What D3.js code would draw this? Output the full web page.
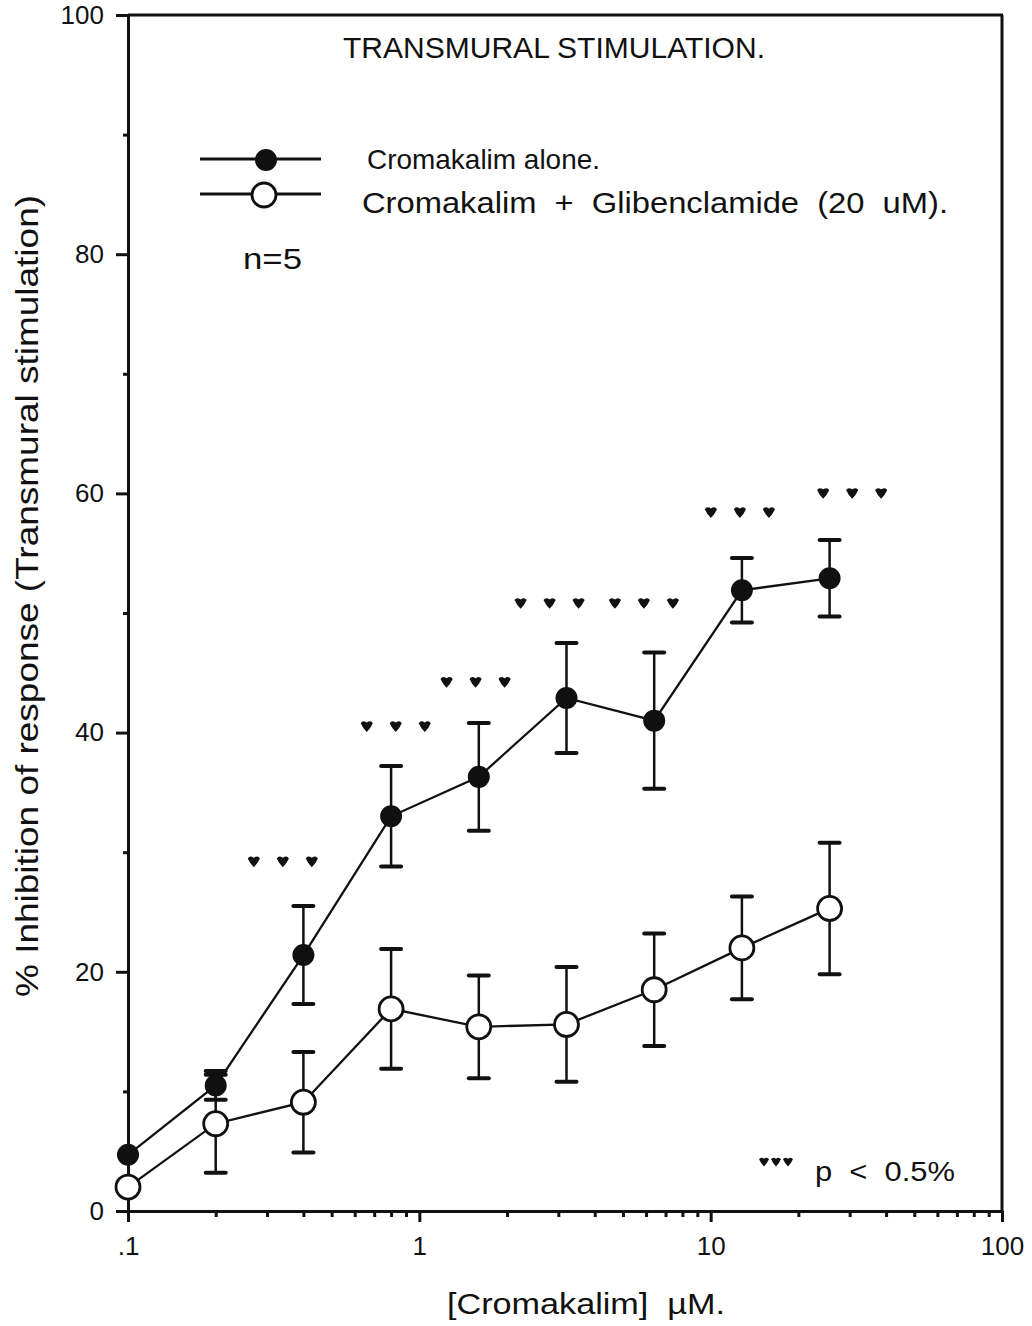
<!DOCTYPE html>
<meta charset="utf-8">
<style>
body { margin: 0; background: #fff; }
svg { display: block; }
text { font-family: "Liberation Sans", Arial, sans-serif; fill: #111; white-space: pre; }
.axis path, .axis line { stroke: #111; stroke-width: 3px; fill: none; }
.axis text { font-size: 26px; }
.curve { fill: none; stroke: #111; stroke-width: 2.3px; }
.err { stroke: #111; stroke-width: 2.5px; }
.cap { stroke: #111; stroke-width: 4px; stroke-linecap: round; }
.dot--alone { fill: #111; stroke: #111; stroke-width: 2px; }
.dot--glib { fill: #fff; stroke: #111; stroke-width: 2.8px; }
.star { fill: #111; }
</style>
<body>
<script src="https://d3js.org/d3.v7.min.js"></script>
<script>

// cromakalim concentrations (uM), doubling from 0.1
var conc = [0.1, 0.2, 0.4, 0.8, 1.6, 3.2, 6.4, 12.8, 25.6];

// % inhibition, mean and s.e.m.
var alone    = [4.7, 10.5, 21.4, 33.0, 36.3, 42.9, 41.0, 51.9, 52.9];
var aloneSem = [0, 1.2, 4.1, 4.2, 4.5, 4.6, 5.7, 2.7, 3.2];
var glib     = [2.0, 7.3, 9.1, 16.9, 15.4, 15.6, 18.5, 22.0, 25.3];
var glibSem  = [0, 4.1, 4.2, 5.0, 4.3, 4.8, 4.7, 4.3, 5.5];

// significance markers (*** p < 0.5%): centre concentration and height
var starConc  = [0.34, 0.83, 1.56, 2.8, 5.9, 12.6, 30.6];
var starLevel = [29.2, 40.5, 44.2, 50.8, 50.8, 58.4, 60.0];

var xTicks = [0.1, 1, 10, 100];
var xTickLabels = [".1", "1", "10", "100"];
var yTicks = [0, 20, 40, 60, 80, 100];

var width = 1032,
    height = 1326;

var svg = d3.select("body").append("svg")
    .attr("width", width)
    .attr("height", height);

var x = d3.scaleLog().domain([0.1, 100]).range([128, 1002]);
var y = d3.scaleLinear().domain([0, 100]).range([1211, 15]);

// x axis, log ticks pointing down
var xAll = x.ticks();
var xAxis = svg.append("g")
    .attr("class", "axis")
    .attr("transform", "translate(0," + y(0) + ")")
    .call(d3.axisBottom(x).tickValues(xAll).tickSize(6).tickSizeOuter(0)
      .tickFormat(function(d) { var i = xTicks.indexOf(d); return i < 0 ? "" : xTickLabels[i]; }));
xAxis.selectAll(".tick line")
    .attr("y2", function(d) { return xTicks.indexOf(d) < 0 ? 6 : 11; });
xAxis.selectAll(".tick text").attr("y", 26).attr("dy", "0.71em");

// y axis
var yAxis = svg.append("g")
    .attr("class", "axis")
    .attr("transform", "translate(" + x(0.1) + ",0)")
    .call(d3.axisLeft(y).tickValues(d3.range(0, 101, 10)).tickSize(5).tickSizeOuter(0)
      .tickFormat(function(d) { return yTicks.indexOf(d) < 0 ? "" : d; }));
yAxis.selectAll(".tick line")
    .attr("x2", function(d) { return yTicks.indexOf(d) < 0 ? -5 : -12; });
yAxis.selectAll(".tick text").attr("x", -24);

// frame: top and right edges
svg.append("line")
    .attr("x1", x(0.1)).attr("x2", x(100) + 1).attr("y1", y(100)).attr("y2", y(100))
    .style("stroke", "#111").style("stroke-width", 3);
svg.append("line")
    .attr("x1", x(100)).attr("x2", x(100)).attr("y1", y(100)).attr("y2", y(0))
    .style("stroke", "#111").style("stroke-width", 3);

// error bars
function errorBars(means, sems) {
  var g = svg.append("g");
  conc.forEach(function(c, i) {
    if (!sems[i]) return;
    var cx = x(c), lo = y(means[i] - sems[i]), hi = y(means[i] + sems[i]);
    g.append("line").attr("class", "err").attr("x1", cx).attr("x2", cx).attr("y1", lo).attr("y2", hi);
    [lo, hi].forEach(function(yy) {
      g.append("line").attr("class", "cap").attr("x1", cx - 10).attr("x2", cx + 10).attr("y1", yy).attr("y2", yy);
    });
  });
}
errorBars(glib, glibSem);
errorBars(alone, aloneSem);

var line = d3.line()
    .x(function(d) { return x(d[0]); })
    .y(function(d) { return y(d[1]); });

svg.append("path").attr("class", "curve").attr("d", line(d3.zip(conc, glib)));
svg.append("path").attr("class", "curve").attr("d", line(d3.zip(conc, alone)));

svg.selectAll(".dot--glib").data(d3.zip(conc, glib)).enter().append("circle")
    .attr("class", "dot--glib")
    .attr("cx", function(d) { return x(d[0]); })
    .attr("cy", function(d) { return y(d[1]); })
    .attr("r", 12);

svg.selectAll(".dot--alone").data(d3.zip(conc, alone)).enter().append("circle")
    .attr("class", "dot--alone")
    .attr("cx", function(d) { return x(d[0]); })
    .attr("cy", function(d) { return y(d[1]); })
    .attr("r", 10);

// little drop-shaped asterisks
function star(g, cx, cy, s) {
  g.append("path").attr("class", "star")
    .attr("transform", "translate(" + cx + "," + cy + ") scale(" + s + ")")
    .attr("d", "M-4.5,-2.5 Q-3,-5 0,-3 Q3,-5 4.5,-2.5 Q3,1 0,4 Q-3,1 -4.5,-2.5 Z");
}
var stars = svg.append("g");
starConc.forEach(function(c, i) {
  [-29, 0, 29].forEach(function(dx) { star(stars, x(c) + dx, y(starLevel[i]), 1.35); });
});

// text fitted between two x positions
function fitText(g, str, x0, x1, base, size) {
  return g.append("text").attr("x", x0).attr("y", base).attr("font-size", size)
    .attr("textLength", x1 - x0).attr("lengthAdjust", "spacingAndGlyphs")
    .text(str);
}

// title and legend
fitText(svg, "TRANSMURAL STIMULATION.", 343, 765, 58, 30);

var legend = svg.append("g");
legend.append("line").attr("x1", 200).attr("x2", 321).attr("y1", 159).attr("y2", 159)
    .style("stroke", "#111").style("stroke-width", 3);
legend.append("circle").attr("class", "dot--alone").attr("cx", 266).attr("cy", 160).attr("r", 10);
legend.append("line").attr("x1", 200).attr("x2", 321).attr("y1", 194).attr("y2", 194)
    .style("stroke", "#111").style("stroke-width", 3);
legend.append("circle").attr("class", "dot--glib").attr("cx", 264).attr("cy", 195).attr("r", 12);

fitText(legend, "Cromakalim alone.", 367, 600, 169, 28);
fitText(legend, "Cromakalim  +  Glibenclamide  (20  uM).", 362, 948, 213, 29);
fitText(svg, "n=5", 243, 302, 269, 29);

// significance key
var key = svg.append("g");
[764, 776, 788].forEach(function(kx) { star(key, kx, 1162, 1.1); });
fitText(svg, "p  <  0.5%", 815, 955, 1181, 27);

// axis titles
fitText(svg, "[Cromakalim]  \u00b5M.", 447, 725, 1314, 30);

var yTitle = svg.append("g").attr("transform", "translate(38,0) rotate(-90)");
fitText(yTitle, "% Inhibition of response (Transmural stimulation)", -997, -195, 0, 32);

</script>
</body>
</html>
